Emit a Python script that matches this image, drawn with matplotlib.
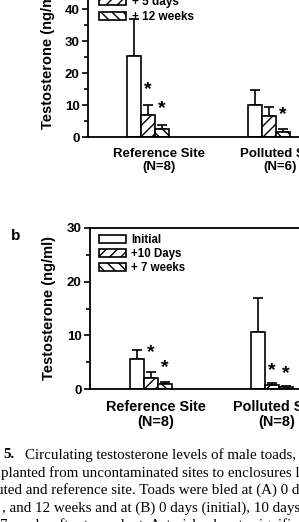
import matplotlib
matplotlib.use("Agg")
import matplotlib.pyplot as plt
import numpy as np

plt.rcParams["font.family"] = ["Liberation Sans", "DejaVu Sans"]
plt.rcParams["font.weight"] = "bold"
plt.rcParams["hatch.linewidth"] = 1.0

W, H = 299, 522

sites_a = ["Reference Site\n(N=8)", "Polluted Site\n(N=6)"]
labels_a = ["Initial", "+ 5 days", "+ 12 weeks"]
mean_a = [[25.3, 6.9, 2.6], [10.0, 6.7, 1.5]]
top_a = [[37.0, 10.0, 3.8], [14.7, 9.4, 2.4]]
stars_a = [(1, 14.7), (2, 9.0), (5, 6.9)]

sites_b = ["Reference Site\n(N=8)", "Polluted Site\n(N=8)"]
labels_b = ["Initial", "+10 Days", "+ 7 weeks"]
mean_b = [[5.6, 2.0, 0.9], [10.7, 0.7, 0.4]]
top_b = [[7.3, 3.2, 1.3], [17.0, 1.1, 0.6]]
stars_b = [(1, 6.7), (2, 3.9), (4, 3.5), (5, 2.8)]

hatches = ["", "///", "\\\\\\"]

caption = [
    "planted from uncontaminated sites to enclosures located at",
    "uted and reference site. Toads were bled at (A) 0 days",
    ", and 12 weeks and at (B) 0 days (initial), 10 days, and",
    "7 weeks after transplant. Asterisks denote significance",
]


def px_axes(left, right, top, bottom):
    return fig.add_axes([left / W, 1 - bottom / H, (right - left) / W, (bottom - top) / H])


def panel(ax, means, tops, labels, sites, stars, ymax, xlim, w, lab_fs, lab_off):
    x = np.array([1.0, 2.0])
    means = np.array(means)
    tops = np.array(tops)
    for i in range(3):
        pos = x + (i - 1) * w
        err = [np.zeros(2), tops[:, i] - means[:, i]]
        ax.bar(pos, means[:, i], width=w, color="white", edgecolor="black",
               linewidth=1.2, hatch=hatches[i], label=labels[i], zorder=2)
        ax.errorbar(pos, means[:, i], yerr=err, fmt="none", ecolor="black",
                    elinewidth=1.2, capsize=3.5, capthick=1.2, zorder=1)
    for k, yv in stars:
        g, i = divmod(k, 3)
        ax.text(x[g] + (i - 1) * w, yv, "*", ha="center", va="center",
                fontsize=14, fontweight="bold")
    ax.set_xlim(*xlim)
    ax.set_ylim(0, ymax)
    ax.set_yticks(np.arange(0, ymax + 1, 10))
    ax.set_yticks(np.arange(5, ymax, 10), minor=True)
    ax.tick_params(axis="y", which="major", direction="out", length=4, width=1.2,
                   labelsize=9.5, pad=2)
    ax.tick_params(axis="y", which="minor", direction="out", length=3, width=1.2)
    ax.set_xticks(x + lab_off)
    ax.set_xticklabels(sites, fontsize=lab_fs, fontweight="bold", linespacing=1.1)
    ax.tick_params(axis="x", length=0, pad=8)
    for s in ax.spines.values():
        s.set_linewidth(1.3)
    ax.set_ylabel("Testosterone (ng/ml)", fontsize=10.5, fontweight="bold")


fig = plt.figure(figsize=(W / 100, H / 100), dpi=100)

# panel a (cropped at the top and right)
ax_a = px_axes(88, 340, -23, 137)
panel(ax_a, mean_a, top_a, labels_a, sites_a, stars_a, 50,
      (1 - 60 / 121, 2 + 71 / 121), 0.118, 9.5, 0.09)
ax_a.yaxis.set_label_coords(-0.13, 0.5)
ax_a.legend(loc="upper left", bbox_to_anchor=(0.044, 0.975), frameon=False,
            fontsize=8.5, handlelength=2.3, handleheight=0.7, labelspacing=0.25,
            handletextpad=0.5, borderpad=0, borderaxespad=0)

# panel b
ax_b = px_axes(90, 340, 228, 389)
panel(ax_b, mean_b, top_b, labels_b, sites_b, stars_b, 30,
      (1 - 61 / 121, 2 + 68 / 121), 0.118, 10.4, 0.04)
ax_b.yaxis.set_label_coords(-0.135, 0.5)
ax_b.legend(loc="upper left", bbox_to_anchor=(0.036, 0.965), frameon=False,
            fontsize=8.3, handlelength=2.3, handleheight=0.7, labelspacing=0.2,
            handletextpad=0.5, borderpad=0, borderaxespad=0)

fig.text(16 / W, 1 - 236 / H, "b", fontsize=11, fontweight="bold",
         ha="center", va="center")

# caption below, cut by the crop
cap = dict(family=["Liberation Serif", "DejaVu Serif"], fontweight="normal",
           fontsize=10.8, va="center", ha="left")
fig.text(3 / W, 1 - 455 / H, "5.", **{**cap, "fontweight": "bold"})
fig.text(25 / W, 1 - 455 / H, "Circulating testosterone levels of male toads, Bufo", **cap)
for j, line in enumerate(caption):
    xs = [1, -4, 2, 0][j]
    fig.text(xs / W, 1 - (473 + 17.5 * j) / H, line, **cap)

fig.savefig("out.png", dpi=100)
